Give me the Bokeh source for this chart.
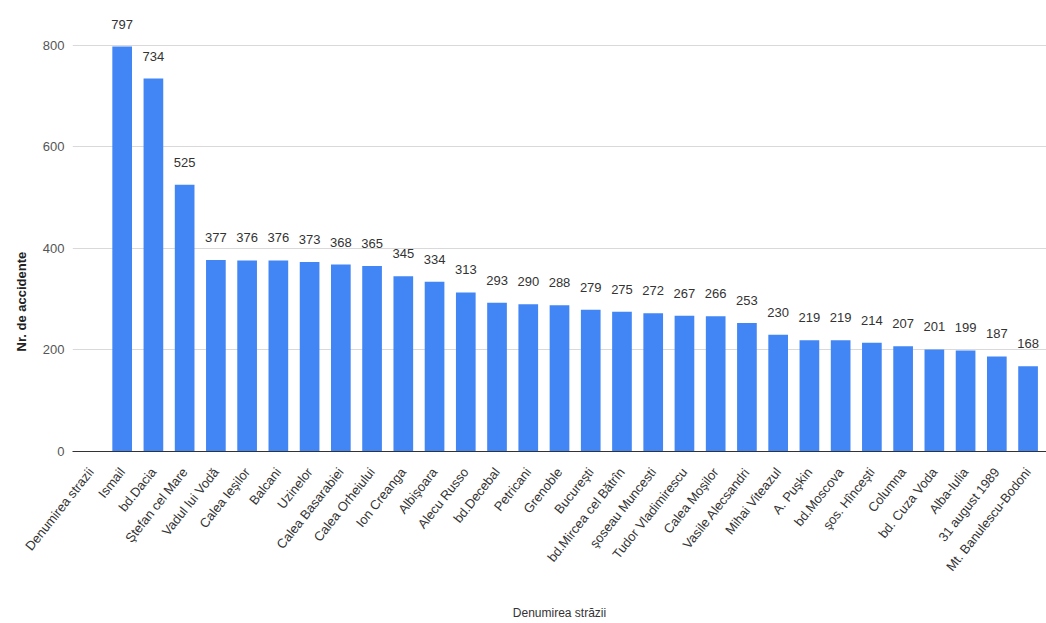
import math
from bokeh.plotting import figure
from bokeh.models import ColumnDataSource, Range1d, FactorRange, FixedTicker, Title
from bokeh.core.properties import value
from bokeh.embed import file_html
from bokeh.resources import INLINE

streets = ["Denumirea strazii", "Ismail", "bd.Dacia", "Ştefan cel Mare", "Vadul lui Vodă",
           "Calea Ieşilor", "Balcani", "Uzinelor", "Calea Basarabiei", "Calea Orheiului",
           "Ion Creanga", "Albişoara", "Alecu Russo", "bd.Decebal", "Petricani", "Grenoble",
           "Bucureşti", "bd.Mircea cel Bătrîn", "şoseau Muncesti", "Tudor Vladimirescu",
           "Calea Moşilor", "Vasile Alecsandri", "Mihai Viteazul", "A. Puşkin", "bd.Moscova",
           "şos. Hînceşti", "Columna", "bd. Cuza Voda", "Alba-Iulia", "31 august 1989",
           "Mt. Banulescu-Bodoni"]
accidents = [float("nan"), 797, 734, 525, 377, 376, 376, 373, 368, 365, 345, 334, 313, 293,
             290, 288, 279, 275, 272, 267, 266, 253, 230, 219, 219, 214, 207, 201, 199, 187, 168]
y_ticks = [0, 200, 400, 600, 800]

FONT = "Liberation Sans"

src = ColumnDataSource(dict(x=streets, top=accidents))
lab_x = [s for s, v in zip(streets, accidents) if not math.isnan(v)]
lab_y = [v for v in accidents if not math.isnan(v)]
lab_src = ColumnDataSource(dict(x=lab_x, y=lab_y, t=[str(int(v)) for v in lab_y]))

xr = FactorRange(*streets, range_padding=0.09, range_padding_units="absolute")
p = figure(width=1046, height=623, x_range=xr, y_range=Range1d(0, 870),
           output_backend="svg", toolbar_location=None,
           min_border_left=70, min_border_right=0, min_border_top=9, min_border_bottom=171)
p.outline_line_color = None
p.background_fill_color = "white"
p.border_fill_color = "white"

p.vbar(x="x", top="top", width=0.63, source=src, color="#4285F4", line_color=None)
p.text(x="x", y="y", text="t", source=lab_src, text_align="center", text_baseline="bottom",
       y_offset=-18, text_font=value(FONT), text_font_size="13px", text_color="#333333")

p.xgrid.grid_line_color = None
p.ygrid.grid_line_color = "#d9d9d9"
p.ygrid.grid_line_width = 1

p.yaxis.ticker = FixedTicker(ticks=y_ticks)
p.yaxis.axis_line_color = None
p.yaxis.major_tick_line_color = None
p.yaxis.minor_tick_line_color = None
p.yaxis.major_tick_out = 0
p.yaxis.minor_tick_out = 0
p.yaxis.major_label_standoff = 8
p.yaxis.major_label_text_font = FONT
p.yaxis.major_label_text_font_size = "13px"
p.yaxis.major_label_text_color = "#555555"

ytitle = Title(text="Nr. de accidente", align="left", offset=100, standoff=22,
               text_font=FONT, text_font_size="13px", text_font_style="bold",
               text_color="#222222")
p.add_layout(ytitle, "left")

p.xaxis.axis_line_color = "#333333"
p.xaxis.axis_line_width = 1
p.xaxis.major_tick_line_color = None
p.xaxis.minor_tick_line_color = None
p.xaxis.major_label_orientation = 0.9
p.xaxis.major_label_text_font = FONT
p.xaxis.major_label_text_font_size = "13px"
p.xaxis.major_label_text_color = "#333333"
p.xaxis.major_label_standoff = 12
p.xaxis.axis_label = "Denumirea străzii"
p.xaxis.axis_label_text_font = FONT
p.xaxis.axis_label_text_font_size = "12px"
p.xaxis.axis_label_text_font_style = "normal"
p.xaxis.axis_label_text_color = "#333333"
p.xaxis.axis_label_standoff = 25

open("out.html", "w").write(file_html(p, INLINE))
